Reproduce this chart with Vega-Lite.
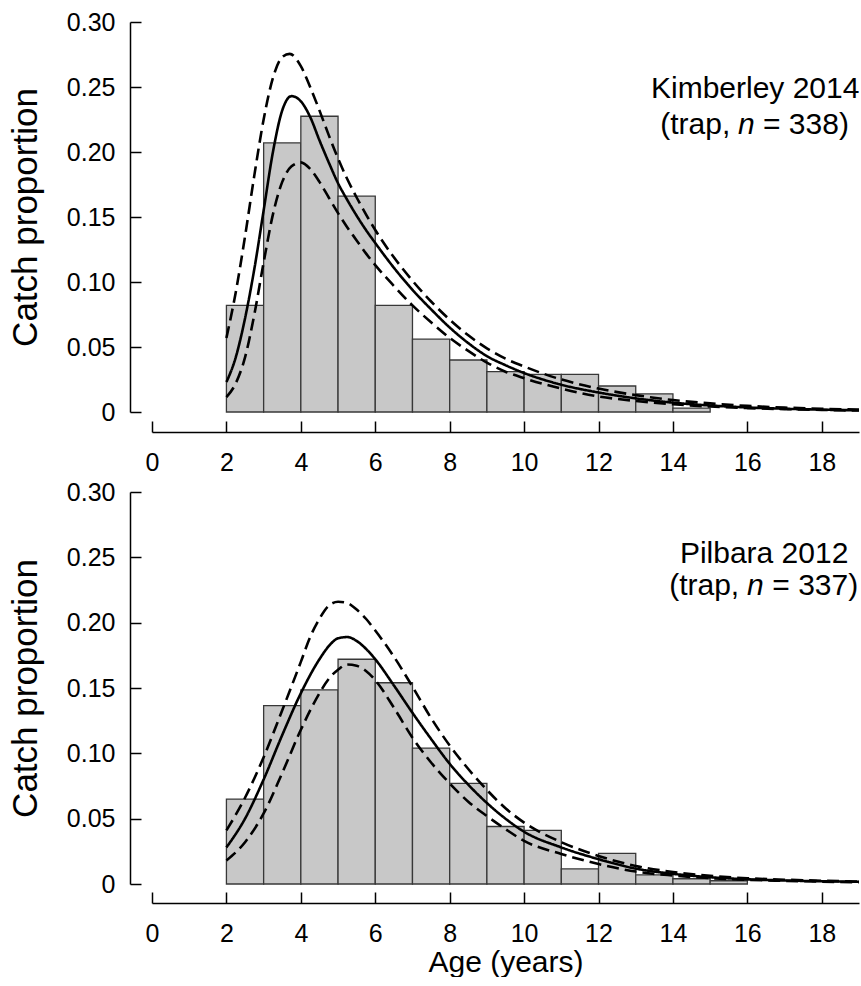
{
  "$schema": "https://vega.github.io/schema/vega-lite/v6.json",
  "background": "white",
  "padding": {"left": 8, "top": 10, "right": 0, "bottom": 0},
  "bounds": "flush",
  "spacing": 80,
  "config": {
    "font": "Liberation Sans",
    "view": {"stroke": null},
    "axis": {
      "grid": false,
      "domainColor": "#000",
      "tickColor": "#000",
      "labelColor": "#000",
      "titleColor": "#000",
      "labelFont": "Liberation Sans",
      "titleFont": "Liberation Sans",
      "labelFontSize": 25,
      "titleFontSize": 30,
      "titleFontWeight": "normal",
      "domainWidth": 1.5,
      "tickWidth": 1.5,
      "labelOverlap": false,
      "labelFlush": false
    },
    "text": {"font": "Liberation Sans", "fontSize": 30, "color": "#000"}
  },
  "datasets": {
    "kim_bars": [
      {"age": 2, "age2": 3, "prop": 0.082},
      {"age": 3, "age2": 4, "prop": 0.207},
      {"age": 4, "age2": 5, "prop": 0.2275},
      {"age": 5, "age2": 6, "prop": 0.166},
      {"age": 6, "age2": 7, "prop": 0.082},
      {"age": 7, "age2": 8, "prop": 0.056},
      {"age": 8, "age2": 9, "prop": 0.040},
      {"age": 9, "age2": 10, "prop": 0.031},
      {"age": 10, "age2": 11, "prop": 0.029},
      {"age": 11, "age2": 12, "prop": 0.029},
      {"age": 12, "age2": 13, "prop": 0.020},
      {"age": 13, "age2": 14, "prop": 0.014},
      {"age": 14, "age2": 15, "prop": 0.003}
    ],
    "pil_bars": [
      {"age": 2, "age2": 3, "prop": 0.065},
      {"age": 3, "age2": 4, "prop": 0.1365},
      {"age": 4, "age2": 5, "prop": 0.1485},
      {"age": 5, "age2": 6, "prop": 0.172},
      {"age": 6, "age2": 7, "prop": 0.154},
      {"age": 7, "age2": 8, "prop": 0.104},
      {"age": 8, "age2": 9, "prop": 0.077},
      {"age": 9, "age2": 10, "prop": 0.044},
      {"age": 10, "age2": 11, "prop": 0.041},
      {"age": 11, "age2": 12, "prop": 0.0115},
      {"age": 12, "age2": 13, "prop": 0.0235},
      {"age": 13, "age2": 14, "prop": 0.007},
      {"age": 14, "age2": 15, "prop": 0.004},
      {"age": 15, "age2": 16, "prop": 0.0025}
    ],
    "kim_fit": [
      {"curve": "fit", "age": 2.0, "prop": 0.023},
      {"curve": "fit", "age": 2.25, "prop": 0.042},
      {"curve": "fit", "age": 2.5, "prop": 0.072},
      {"curve": "fit", "age": 2.75, "prop": 0.110},
      {"curve": "fit", "age": 3.0, "prop": 0.155},
      {"curve": "fit", "age": 3.25, "prop": 0.200},
      {"curve": "fit", "age": 3.5, "prop": 0.232},
      {"curve": "fit", "age": 3.75, "prop": 0.243},
      {"curve": "fit", "age": 4.0, "prop": 0.239},
      {"curve": "fit", "age": 4.25, "prop": 0.227},
      {"curve": "fit", "age": 4.5, "prop": 0.209},
      {"curve": "fit", "age": 4.75, "prop": 0.192},
      {"curve": "fit", "age": 5.0, "prop": 0.176},
      {"curve": "fit", "age": 5.25, "prop": 0.163},
      {"curve": "fit", "age": 5.5, "prop": 0.151},
      {"curve": "fit", "age": 5.75, "prop": 0.140},
      {"curve": "fit", "age": 6.0, "prop": 0.130},
      {"curve": "fit", "age": 6.5, "prop": 0.111},
      {"curve": "fit", "age": 7.0, "prop": 0.094},
      {"curve": "fit", "age": 7.5, "prop": 0.079},
      {"curve": "fit", "age": 8.0, "prop": 0.065},
      {"curve": "fit", "age": 8.5, "prop": 0.053},
      {"curve": "fit", "age": 9.0, "prop": 0.043},
      {"curve": "fit", "age": 9.5, "prop": 0.036},
      {"curve": "fit", "age": 10, "prop": 0.030},
      {"curve": "fit", "age": 11, "prop": 0.021},
      {"curve": "fit", "age": 12, "prop": 0.015},
      {"curve": "fit", "age": 13, "prop": 0.0105},
      {"curve": "fit", "age": 14, "prop": 0.0072},
      {"curve": "fit", "age": 15, "prop": 0.005},
      {"curve": "fit", "age": 16, "prop": 0.0035},
      {"curve": "fit", "age": 17, "prop": 0.0025},
      {"curve": "fit", "age": 18, "prop": 0.0018},
      {"curve": "fit", "age": 19, "prop": 0.0013},
      {"curve": "upper", "age": 2.0, "prop": 0.057},
      {"curve": "upper", "age": 2.25, "prop": 0.092},
      {"curve": "upper", "age": 2.5, "prop": 0.135},
      {"curve": "upper", "age": 2.75, "prop": 0.182},
      {"curve": "upper", "age": 3.0, "prop": 0.225},
      {"curve": "upper", "age": 3.25, "prop": 0.257},
      {"curve": "upper", "age": 3.5, "prop": 0.273},
      {"curve": "upper", "age": 3.7, "prop": 0.2755},
      {"curve": "upper", "age": 4.0, "prop": 0.266},
      {"curve": "upper", "age": 4.25, "prop": 0.250},
      {"curve": "upper", "age": 4.5, "prop": 0.232},
      {"curve": "upper", "age": 4.75, "prop": 0.213},
      {"curve": "upper", "age": 5.0, "prop": 0.195},
      {"curve": "upper", "age": 5.25, "prop": 0.179},
      {"curve": "upper", "age": 5.5, "prop": 0.165},
      {"curve": "upper", "age": 5.75, "prop": 0.152},
      {"curve": "upper", "age": 6.0, "prop": 0.140},
      {"curve": "upper", "age": 6.5, "prop": 0.119},
      {"curve": "upper", "age": 7.0, "prop": 0.101},
      {"curve": "upper", "age": 7.5, "prop": 0.085},
      {"curve": "upper", "age": 8.0, "prop": 0.071},
      {"curve": "upper", "age": 8.5, "prop": 0.059},
      {"curve": "upper", "age": 9.0, "prop": 0.049},
      {"curve": "upper", "age": 9.5, "prop": 0.041},
      {"curve": "upper", "age": 10, "prop": 0.035},
      {"curve": "upper", "age": 11, "prop": 0.025},
      {"curve": "upper", "age": 12, "prop": 0.018},
      {"curve": "upper", "age": 13, "prop": 0.013},
      {"curve": "upper", "age": 14, "prop": 0.0092},
      {"curve": "upper", "age": 15, "prop": 0.0066},
      {"curve": "upper", "age": 16, "prop": 0.0047},
      {"curve": "upper", "age": 17, "prop": 0.0034},
      {"curve": "upper", "age": 18, "prop": 0.0025},
      {"curve": "upper", "age": 19, "prop": 0.0018},
      {"curve": "lower", "age": 2.0, "prop": 0.0115},
      {"curve": "lower", "age": 2.25, "prop": 0.022},
      {"curve": "lower", "age": 2.5, "prop": 0.042},
      {"curve": "lower", "age": 2.75, "prop": 0.075},
      {"curve": "lower", "age": 3.0, "prop": 0.115},
      {"curve": "lower", "age": 3.25, "prop": 0.152},
      {"curve": "lower", "age": 3.5, "prop": 0.177},
      {"curve": "lower", "age": 3.75, "prop": 0.189},
      {"curve": "lower", "age": 4.0, "prop": 0.192},
      {"curve": "lower", "age": 4.25, "prop": 0.187},
      {"curve": "lower", "age": 4.5, "prop": 0.177},
      {"curve": "lower", "age": 4.75, "prop": 0.165},
      {"curve": "lower", "age": 5.0, "prop": 0.153},
      {"curve": "lower", "age": 5.25, "prop": 0.142},
      {"curve": "lower", "age": 5.5, "prop": 0.132},
      {"curve": "lower", "age": 5.75, "prop": 0.122},
      {"curve": "lower", "age": 6.0, "prop": 0.113},
      {"curve": "lower", "age": 6.5, "prop": 0.097},
      {"curve": "lower", "age": 7.0, "prop": 0.082},
      {"curve": "lower", "age": 7.5, "prop": 0.069},
      {"curve": "lower", "age": 8.0, "prop": 0.057},
      {"curve": "lower", "age": 8.5, "prop": 0.047},
      {"curve": "lower", "age": 9.0, "prop": 0.038},
      {"curve": "lower", "age": 9.5, "prop": 0.031},
      {"curve": "lower", "age": 10, "prop": 0.026},
      {"curve": "lower", "age": 11, "prop": 0.018},
      {"curve": "lower", "age": 12, "prop": 0.012},
      {"curve": "lower", "age": 13, "prop": 0.0085},
      {"curve": "lower", "age": 14, "prop": 0.006},
      {"curve": "lower", "age": 15, "prop": 0.0042},
      {"curve": "lower", "age": 16, "prop": 0.003},
      {"curve": "lower", "age": 17, "prop": 0.0022},
      {"curve": "lower", "age": 18, "prop": 0.0016},
      {"curve": "lower", "age": 19, "prop": 0.0011}
    ],
    "pil_fit": [
      {"curve": "fit", "age": 2.0, "prop": 0.028},
      {"curve": "fit", "age": 2.5, "prop": 0.050},
      {"curve": "fit", "age": 3.0, "prop": 0.080},
      {"curve": "fit", "age": 3.5, "prop": 0.114},
      {"curve": "fit", "age": 4.0, "prop": 0.146},
      {"curve": "fit", "age": 4.5, "prop": 0.172},
      {"curve": "fit", "age": 4.75, "prop": 0.182},
      {"curve": "fit", "age": 5.0, "prop": 0.188},
      {"curve": "fit", "age": 5.25, "prop": 0.189},
      {"curve": "fit", "age": 5.5, "prop": 0.186},
      {"curve": "fit", "age": 5.75, "prop": 0.180},
      {"curve": "fit", "age": 6.0, "prop": 0.172},
      {"curve": "fit", "age": 6.5, "prop": 0.152},
      {"curve": "fit", "age": 7.0, "prop": 0.131},
      {"curve": "fit", "age": 7.5, "prop": 0.111},
      {"curve": "fit", "age": 8.0, "prop": 0.092},
      {"curve": "fit", "age": 8.5, "prop": 0.076},
      {"curve": "fit", "age": 9.0, "prop": 0.062},
      {"curve": "fit", "age": 9.5, "prop": 0.050},
      {"curve": "fit", "age": 10, "prop": 0.040},
      {"curve": "fit", "age": 11, "prop": 0.028},
      {"curve": "fit", "age": 12, "prop": 0.019},
      {"curve": "fit", "age": 13, "prop": 0.0118},
      {"curve": "fit", "age": 14, "prop": 0.0078},
      {"curve": "fit", "age": 15, "prop": 0.0052},
      {"curve": "fit", "age": 16, "prop": 0.0036},
      {"curve": "fit", "age": 17, "prop": 0.0027},
      {"curve": "fit", "age": 18, "prop": 0.0021},
      {"curve": "fit", "age": 19, "prop": 0.0017},
      {"curve": "upper", "age": 2.0, "prop": 0.041},
      {"curve": "upper", "age": 2.5, "prop": 0.066},
      {"curve": "upper", "age": 3.0, "prop": 0.097},
      {"curve": "upper", "age": 3.5, "prop": 0.133},
      {"curve": "upper", "age": 4.0, "prop": 0.170},
      {"curve": "upper", "age": 4.25, "prop": 0.189},
      {"curve": "upper", "age": 4.5, "prop": 0.203},
      {"curve": "upper", "age": 4.75, "prop": 0.213},
      {"curve": "upper", "age": 5.0, "prop": 0.216},
      {"curve": "upper", "age": 5.25, "prop": 0.215},
      {"curve": "upper", "age": 5.5, "prop": 0.210},
      {"curve": "upper", "age": 5.75, "prop": 0.203},
      {"curve": "upper", "age": 6.0, "prop": 0.194},
      {"curve": "upper", "age": 6.5, "prop": 0.174},
      {"curve": "upper", "age": 7.0, "prop": 0.151},
      {"curve": "upper", "age": 7.5, "prop": 0.127},
      {"curve": "upper", "age": 8.0, "prop": 0.106},
      {"curve": "upper", "age": 8.5, "prop": 0.088},
      {"curve": "upper", "age": 9.0, "prop": 0.072},
      {"curve": "upper", "age": 9.5, "prop": 0.058},
      {"curve": "upper", "age": 10, "prop": 0.047},
      {"curve": "upper", "age": 11, "prop": 0.032},
      {"curve": "upper", "age": 12, "prop": 0.0215},
      {"curve": "upper", "age": 13, "prop": 0.0138},
      {"curve": "upper", "age": 14, "prop": 0.0092},
      {"curve": "upper", "age": 15, "prop": 0.0062},
      {"curve": "upper", "age": 16, "prop": 0.0044},
      {"curve": "upper", "age": 17, "prop": 0.0033},
      {"curve": "upper", "age": 18, "prop": 0.0025},
      {"curve": "upper", "age": 19, "prop": 0.0019},
      {"curve": "lower", "age": 2.0, "prop": 0.018},
      {"curve": "lower", "age": 2.5, "prop": 0.032},
      {"curve": "lower", "age": 3.0, "prop": 0.054},
      {"curve": "lower", "age": 3.5, "prop": 0.085},
      {"curve": "lower", "age": 4.0, "prop": 0.118},
      {"curve": "lower", "age": 4.5, "prop": 0.146},
      {"curve": "lower", "age": 4.75, "prop": 0.157},
      {"curve": "lower", "age": 5.0, "prop": 0.164},
      {"curve": "lower", "age": 5.25, "prop": 0.168},
      {"curve": "lower", "age": 5.5, "prop": 0.167},
      {"curve": "lower", "age": 5.75, "prop": 0.163},
      {"curve": "lower", "age": 6.0, "prop": 0.156},
      {"curve": "lower", "age": 6.5, "prop": 0.135},
      {"curve": "lower", "age": 7.0, "prop": 0.112},
      {"curve": "lower", "age": 7.5, "prop": 0.093},
      {"curve": "lower", "age": 8.0, "prop": 0.077},
      {"curve": "lower", "age": 8.5, "prop": 0.063},
      {"curve": "lower", "age": 9.0, "prop": 0.052},
      {"curve": "lower", "age": 9.5, "prop": 0.042},
      {"curve": "lower", "age": 10, "prop": 0.033},
      {"curve": "lower", "age": 11, "prop": 0.023},
      {"curve": "lower", "age": 12, "prop": 0.0153},
      {"curve": "lower", "age": 13, "prop": 0.0095},
      {"curve": "lower", "age": 14, "prop": 0.0065},
      {"curve": "lower", "age": 15, "prop": 0.0045},
      {"curve": "lower", "age": 16, "prop": 0.0032},
      {"curve": "lower", "age": 17, "prop": 0.0024},
      {"curve": "lower", "age": 18, "prop": 0.0018},
      {"curve": "lower", "age": 19, "prop": 0.0014}
    ]
  },
  "vconcat": [
    {
      "width": 707,
      "height": 390,
      "layer": [
        {
          "data": {"name": "kim_bars"},
          "mark": {"type": "bar", "fill": "#c8c8c8", "stroke": "#383838", "strokeWidth": 1.3},
          "encoding": {
            "x": {"field": "age", "type": "quantitative", "title": null,
                  "scale": {"domain": [0, 19], "nice": false, "zero": false},
                  "axis": {"values": [0,1,2,3,4,5,6,7,8,9,10,11,12,13,14,15,16,17,18,19],
                           "labelExpr": "datum.value % 2 == 0 ? datum.label : ''",
                           "offset": 20, "tickSize": -11, "labelPadding": 29}},
            "x2": {"field": "age2"},
            "y": {"field": "prop", "type": "quantitative", "title": "Catch proportion",
                  "scale": {"domain": [0, 0.3], "nice": false},
                  "axis": {"values": [0,0.025,0.05,0.075,0.1,0.125,0.15,0.175,0.2,0.225,0.25,0.275,0.3],
                           "labelExpr": "round(datum.value*1000) % 50 == 0 ? (datum.value == 0 ? '0' : format(datum.value, '.2f')) : ''",
                           "offset": 22, "tickSize": -11, "labelPadding": 26, "titlePadding": 23, "titleFontSize": 35}},
            "y2": {"datum": 0}
          }
        },
        {
          "data": {"name": "kim_fit"},
          "mark": {"type": "line", "color": "#000", "strokeWidth": 2.6, "interpolate": "monotone"},
          "encoding": {
            "x": {"field": "age", "type": "quantitative", "title": null},
            "y": {"field": "prop", "type": "quantitative", "title": "Catch proportion"},
            "strokeDash": {"field": "curve", "type": "nominal",
                           "scale": {"domain": ["fit", "upper", "lower"], "range": [[1, 0], [12, 6], [12, 6]]},
                           "legend": null}
          }
        },
        {
          "data": {"values": [{"t": "Kimberley 2014"}]},
          "mark": {"type": "text", "align": "center", "baseline": "middle"},
          "encoding": {"x": {"datum": 16.21, "type": "quantitative"}, "y": {"datum": 0.2488, "type": "quantitative"}, "text": {"field": "t"}}
        },
        {
          "data": {"values": [{"t": "(trap,"}]},
          "mark": {"type": "text", "align": "right", "baseline": "middle"},
          "encoding": {"x": {"datum": 15.54, "type": "quantitative"}, "y": {"datum": 0.2206, "type": "quantitative"}, "text": {"field": "t"}}
        },
        {
          "data": {"values": [{"t": "n"}]},
          "mark": {"type": "text", "align": "left", "baseline": "middle", "fontStyle": "italic"},
          "encoding": {"x": {"datum": 15.75, "type": "quantitative"}, "y": {"datum": 0.2206, "type": "quantitative"}, "text": {"field": "t"}}
        },
        {
          "data": {"values": [{"t": "= 338)"}]},
          "mark": {"type": "text", "align": "left", "baseline": "middle"},
          "encoding": {"x": {"datum": 16.42, "type": "quantitative"}, "y": {"datum": 0.2206, "type": "quantitative"}, "text": {"field": "t"}}
        }
      ]
    },
    {
      "width": 707,
      "height": 392,
      "layer": [
        {
          "data": {"name": "pil_bars"},
          "mark": {"type": "bar", "fill": "#c8c8c8", "stroke": "#383838", "strokeWidth": 1.3},
          "encoding": {
            "x": {"field": "age", "type": "quantitative", "title": "Age (years)",
                  "scale": {"domain": [0, 19], "nice": false, "zero": false},
                  "axis": {"values": [0,1,2,3,4,5,6,7,8,9,10,11,12,13,14,15,16,17,18,19],
                           "labelExpr": "datum.value % 2 == 0 ? datum.label : ''",
                           "offset": 19, "tickSize": -11, "labelPadding": 29, "titlePadding": 1}},
            "x2": {"field": "age2"},
            "y": {"field": "prop", "type": "quantitative", "title": "Catch proportion",
                  "scale": {"domain": [0, 0.3], "nice": false},
                  "axis": {"values": [0,0.025,0.05,0.075,0.1,0.125,0.15,0.175,0.2,0.225,0.25,0.275,0.3],
                           "labelExpr": "round(datum.value*1000) % 50 == 0 ? (datum.value == 0 ? '0' : format(datum.value, '.2f')) : ''",
                           "offset": 22, "tickSize": -11, "labelPadding": 26, "titlePadding": 23, "titleFontSize": 35}},
            "y2": {"datum": 0}
          }
        },
        {
          "data": {"name": "pil_fit"},
          "mark": {"type": "line", "color": "#000", "strokeWidth": 2.6, "interpolate": "monotone"},
          "encoding": {
            "x": {"field": "age", "type": "quantitative", "title": "Age (years)"},
            "y": {"field": "prop", "type": "quantitative", "title": "Catch proportion"},
            "strokeDash": {"field": "curve", "type": "nominal",
                           "scale": {"domain": ["fit", "upper", "lower"], "range": [[1, 0], [12, 6], [12, 6]]},
                           "legend": null}
          }
        },
        {
          "data": {"values": [{"t": "Pilbara 2012"}]},
          "mark": {"type": "text", "align": "center", "baseline": "middle"},
          "encoding": {"x": {"datum": 16.45, "type": "quantitative"}, "y": {"datum": 0.2522, "type": "quantitative"}, "text": {"field": "t"}}
        },
        {
          "data": {"values": [{"t": "(trap,"}]},
          "mark": {"type": "text", "align": "right", "baseline": "middle"},
          "encoding": {"x": {"datum": 15.78, "type": "quantitative"}, "y": {"datum": 0.2284, "type": "quantitative"}, "text": {"field": "t"}}
        },
        {
          "data": {"values": [{"t": "n"}]},
          "mark": {"type": "text", "align": "left", "baseline": "middle", "fontStyle": "italic"},
          "encoding": {"x": {"datum": 15.99, "type": "quantitative"}, "y": {"datum": 0.2284, "type": "quantitative"}, "text": {"field": "t"}}
        },
        {
          "data": {"values": [{"t": "= 337)"}]},
          "mark": {"type": "text", "align": "left", "baseline": "middle"},
          "encoding": {"x": {"datum": 16.67, "type": "quantitative"}, "y": {"datum": 0.2284, "type": "quantitative"}, "text": {"field": "t"}}
        }
      ]
    }
  ]
}
